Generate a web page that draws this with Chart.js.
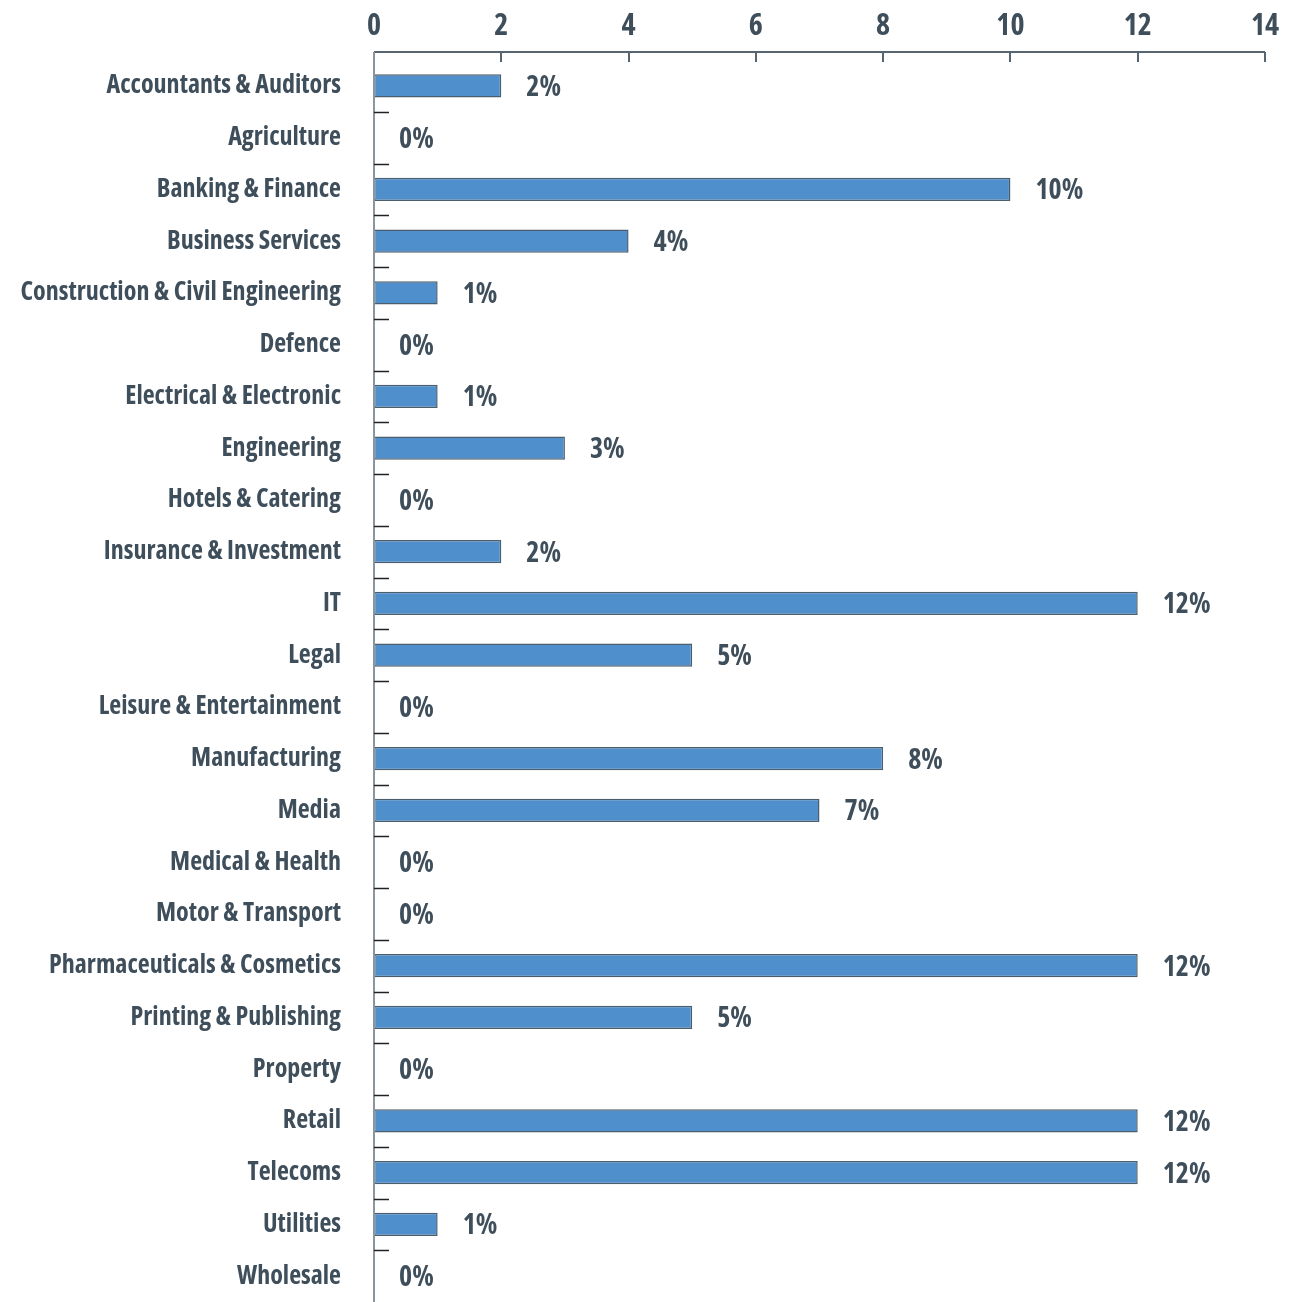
<!DOCTYPE html>
<html>
<head>
<meta charset="utf-8">
<script src="https://cdn.jsdelivr.net/npm/chart.js@4.4.1/dist/chart.umd.min.js"></script>
<style>
  html, body { margin: 0; padding: 0; background: #fff; overflow: hidden; }
  canvas { display: block; }
</style>
</head>
<body>
<canvas id="sectors" width="1313" height="1302"></canvas>
<script>
  const SECTORS = [
    "Accountants & Auditors", "Agriculture", "Banking & Finance", "Business Services",
    "Construction & Civil Engineering", "Defence", "Electrical & Electronic", "Engineering",
    "Hotels & Catering", "Insurance & Investment", "IT", "Legal",
    "Leisure & Entertainment", "Manufacturing", "Media", "Medical & Health",
    "Motor & Transport", "Pharmaceuticals & Cosmetics", "Printing & Publishing", "Property",
    "Retail", "Telecoms", "Utilities", "Wholesale",
  ];
  const SHARE = [2, 0, 10, 4, 1, 0, 1, 3, 0, 2, 12, 5, 0, 8, 7, 0, 0, 12, 5, 0, 12, 12, 1, 0];
  const X_MIN = 0;
  const X_MAX = 14;
  const X_STEP = 2;

  // condensed bold face; chart.js passes weight straight into the font string
  const FONT_FAMILY = "'Open Sans', 'Roboto Condensed', sans-serif";
  const FONT_WEIGHT = "bold condensed";
  const INK = "#3f4e5b";
  const AXIS = "#56656f";

  // axis line along the top, ticks hang down into the plot; category ticks point right
  const axesPlugin = {
    id: "axes",
    afterDraw(chart) {
      const { ctx, chartArea, scales } = chart;
      const x = scales.x;
      const y = scales.y;
      const lineY = chartArea.top - 8;
      const left = x.getPixelForValue(X_MIN);
      const right = x.getPixelForValue(X_MAX);
      ctx.save();
      ctx.strokeStyle = AXIS;
      ctx.lineWidth = 2;
      ctx.beginPath();
      ctx.moveTo(left, lineY);
      ctx.lineTo(right, lineY);
      for (let v = X_MIN; v <= X_MAX; v += X_STEP) {
        const px = Math.round(x.getPixelForValue(v));
        ctx.moveTo(px, lineY);
        ctx.lineTo(px, lineY + 10);
      }
      ctx.stroke();

      ctx.strokeStyle = "#8b959c";
      ctx.beginPath();
      ctx.moveTo(left, lineY);
      ctx.lineTo(left, chartArea.bottom + 10);
      ctx.stroke();

      ctx.strokeStyle = "#222";
      ctx.lineWidth = 1.5;
      ctx.beginPath();
      for (let i = 0; i < SECTORS.length - 1; i++) {
        const py = Math.round((y.getPixelForValue(i) + y.getPixelForValue(i + 1)) / 2) + 0.5;
        ctx.moveTo(left, py);
        ctx.lineTo(left + 15, py);
      }
      ctx.stroke();
      ctx.restore();
    },
  };

  const valueLabels = {
    id: "valueLabels",
    afterDatasetsDraw(chart) {
      const { ctx } = chart;
      const meta = chart.getDatasetMeta(0);
      ctx.save();
      ctx.font = `${FONT_WEIGHT} 28px ${FONT_FAMILY}`;
      ctx.fillStyle = INK;
      ctx.textAlign = "left";
      ctx.textBaseline = "middle";
      meta.data.forEach((bar, i) => {
        ctx.fillText(`${SHARE[i]}%`, bar.x + 25, bar.y + 2);
      });
      ctx.restore();
    },
  };

  new Chart(document.getElementById("sectors"), {
    type: "bar",
    data: {
      labels: SECTORS,
      datasets: [{
        data: SHARE,
        backgroundColor: "#4e8fcc",
        borderColor: "#4b5e6e",
        borderWidth: 1.5,
        borderSkipped: false,
        barPercentage: 0.45,
        categoryPercentage: 1,
      }],
    },
    options: {
      indexAxis: "y",
      responsive: false,
      animation: false,
      layout: { padding: { left: 0, right: 48, top: 0, bottom: 0 } },
      plugins: { legend: { display: false }, tooltip: { enabled: false } },
      scales: {
        x: {
          position: "top",
          min: X_MIN,
          max: X_MAX,
          grid: { display: false, drawTicks: false },
          border: { display: false },
          ticks: {
            stepSize: X_STEP,
            color: INK,
            padding: 16,
            font: { family: FONT_FAMILY, size: 30, weight: FONT_WEIGHT },
          },
          afterFit(scale) { scale.height = 60; },
        },
        y: {
          grid: { display: false, drawTicks: false },
          border: { display: false },
          ticks: {
            color: INK,
            padding: 33,
            font: { family: FONT_FAMILY, size: 26, weight: FONT_WEIGHT },
          },
          afterFit(scale) {
            scale.width = 374;
            // let the bands run to the bottom edge
            scale.paddingTop = 0;
            scale.paddingBottom = 0;
          },
        },
      },
    },
    plugins: [axesPlugin, valueLabels],
  });
</script>
</body>
</html>
